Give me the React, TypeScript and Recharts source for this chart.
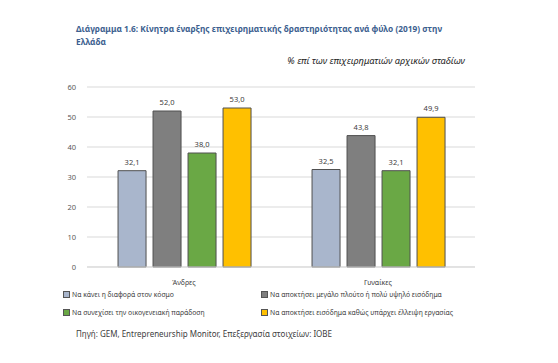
import { BarChart, Bar, XAxis, YAxis, CartesianGrid, LabelList } from "recharts";

const categories = ["Άνδρες", "Γυναίκες"];
const worldDiff = [32.1, 32.5];
const wealth = [52.0, 43.8];
const tradition = [38.0, 32.1];
const lackOfWork = [53.0, 49.9];
const yTicks = [0, 10, 20, 30, 40, 50, 60];

const series = [
  { key: "a", name: "Να κάνει η διαφορά στον κόσμο", color: "#a9b6cc", values: worldDiff },
  { key: "b", name: "Να αποκτήσει μεγάλο πλούτο ή πολύ υψηλό εισόδημα", color: "#7f7f7f", values: wealth },
  { key: "c", name: "Να συνεχίσει την οικογενειακή παράδοση", color: "#6aa845", values: tradition },
  { key: "d", name: "Να αποκτήσει εισόδημα καθώς υπάρχει έλλειψη εργασίας", color: "#ffc000", values: lackOfWork },
];

const data = categories.map((c, i) => {
  const row: Record<string, string | number> = { name: c };
  series.forEach((s) => (row[s.key] = s.values[i]));
  return row;
});

const FONT = "'Noto Sans', 'Open Sans', sans-serif";
const fmt = (v: any) => Number(v).toFixed(1).replace(".", ",");

function LegendItem({ x, y, color, text }: { x: number; y: number; color: string; text: string }) {
  return (
    <div style={{ position: "absolute", left: x, top: y - 5, display: "flex", alignItems: "center", fontSize: 6.8, color: "#404040", whiteSpace: "nowrap" }}>
      <span style={{ width: 5, height: 5, background: color, border: "1px solid #555", marginRight: 2 }} />
      {text}
    </div>
  );
}

export default function App() {
  return (
    <div style={{ position: "fixed", left: 0, top: 0, width: 558, height: 363, background: "#fff", fontFamily: FONT }}>
      <div style={{ position: "absolute", left: 76, top: 22, fontSize: 8.3, fontWeight: 700, color: "#3d5f8f", lineHeight: "13px", whiteSpace: "nowrap" }}>
        Διάγραμμα 1.6: Κίνητρα έναρξης επιχειρηματικής δραστηριότητας ανά φύλο (2019) στην
        <br />
        Ελλάδα
      </div>
      <div style={{ position: "absolute", right: 93, top: 54, fontSize: 9.3, fontStyle: "italic", color: "#262626", whiteSpace: "nowrap" }}>
        % επί των επιχειρηματιών αρχικών σταδίων
      </div>
      <div style={{ position: "absolute", left: 0, top: 0 }}>
        <BarChart width={558} height={290} data={data} margin={{ top: 87, right: 83, bottom: 3, left: 0 }} barCategoryGap="16%" barGap={7}>
          <CartesianGrid vertical={false} stroke="#d9d9d9" />
          <XAxis dataKey="name" tickLine={false} axisLine={{ stroke: "#d9d9d9" }} tick={{ fontSize: 7, fill: "#404040", fontFamily: FONT }} height={20} tickMargin={7} />
          <YAxis domain={[0, 60]} ticks={yTicks} tickLine={false} axisLine={false} width={87} tickMargin={5} tick={{ fontSize: 7.5, fill: "#595959", fontFamily: FONT }} />
          {series.map((s) => (
            <Bar key={s.key} dataKey={s.key} name={s.name} fill={s.color} stroke="#505050" strokeWidth={1} isAnimationActive={false}>
              <LabelList dataKey={s.key} position="top" formatter={fmt} style={{ fontSize: 7.5, fill: "#404040", fontFamily: FONT }} offset={6} />
            </Bar>
          ))}
        </BarChart>
      </div>
      <LegendItem x={63} y={295} color={series[0].color} text={series[0].name} />
      <LegendItem x={261} y={295} color={series[1].color} text={series[1].name} />
      <LegendItem x={63} y={313} color={series[2].color} text={series[2].name} />
      <LegendItem x={261} y={313} color={series[3].color} text={series[3].name} />
      <div style={{ position: "absolute", left: 76, top: 328, fontSize: 8, color: "#404040", whiteSpace: "nowrap" }}>
        Πηγή: GEM, Entrepreneurship Monitor, Επεξεργασία στοιχείων: ΙΟΒΕ
      </div>
    </div>
  );
}
